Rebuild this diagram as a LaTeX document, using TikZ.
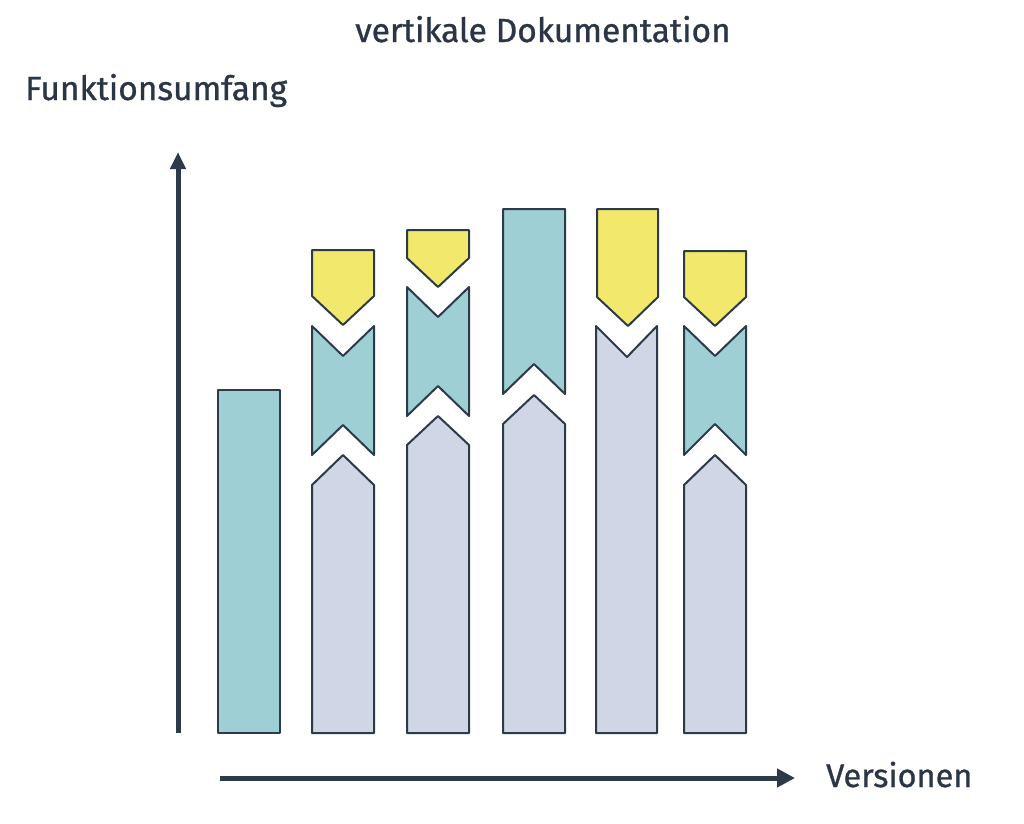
\documentclass[tikz,border=0pt]{standalone}
\usepackage{fontspec}
\setmainfont{Fira Sans}
\newfontfamily\lblfont{Fira Sans}[FakeBold=0.9]
\usetikzlibrary{arrows.meta}
\definecolor{edgec}{HTML}{2D3A4A}
\definecolor{tealc}{HTML}{9DCFD4}
\definecolor{grayc}{HTML}{CFD6E5}
\definecolor{yellowc}{HTML}{F2E86B}
\definecolor{textc}{HTML}{2A3646}
\begin{document}
\begin{tikzpicture}[x=1pt,y=-1pt,
  piece/.style={draw=edgec,line width=2pt,line join=round},
  tealpiece/.style={piece,fill=tealc},
  graypiece/.style={piece,fill=grayc},
  yellowpiece/.style={piece,fill=yellowc},
  axis/.style={draw=edgec,line width=5pt},
  lbl/.style={text=textc,font=\lblfont\fontsize{33.5}{40}\selectfont,inner sep=0pt}]
\useasboundingbox (0,0) rectangle (1024,823);
% labels
\node[lbl,anchor=base] (title) at (543,42) {vertikale Dokumentation};
\node[lbl,anchor=base west] (ylabel) at (25,100) {Funktionsumfang};
\node[lbl,anchor=base west,font=\lblfont\fontsize{32.5}{39}\selectfont] (xlabel) at (826,787) {Versionen};
% axes
\coordinate (yfrom) at (178,733);
\coordinate (yto) at (178,152);
\coordinate (xfrom) at (220,778);
\coordinate (xto) at (795,778);
\draw[axis,-{Triangle[length=17pt,width=15pt]}] (yfrom) -- (yto);
\draw[axis,-{Triangle[length=18pt,width=18pt]}] (xfrom) -- (xto);
% bar 1
\draw[tealpiece] (218,390) rectangle (280,733);
% bar 2
\draw[yellowpiece] (312,250) -- (374,250) -- (374,296) -- (343,325) -- (312,296) -- cycle;
\draw[tealpiece] (312,326) -- (343,356) -- (374,326) -- (374,455) -- (343,425) -- (312,455) -- cycle;
\draw[graypiece] (312,733) -- (312,485) -- (343,455) -- (374,485) -- (374,733) -- cycle;
% bar 3
\draw[yellowpiece] (407,230) -- (469,230) -- (469,258) -- (438,287) -- (407,258) -- cycle;
\draw[tealpiece] (407,287) -- (438,317) -- (469,287) -- (469,416) -- (438,386) -- (407,416) -- cycle;
\draw[graypiece] (407,733) -- (407,445) -- (438,416) -- (469,445) -- (469,733) -- cycle;
% bar 4
\draw[tealpiece] (503,209) -- (565,209) -- (565,394) -- (534,364) -- (503,394) -- cycle;
\draw[graypiece] (503,733) -- (503,424) -- (534,395) -- (565,424) -- (565,733) -- cycle;
% bar 5
\draw[yellowpiece] (597,209) -- (658,209) -- (658,297) -- (628,326) -- (597,297) -- cycle;
\draw[graypiece] (596,326) -- (627,357) -- (657,326) -- (657,733) -- (596,733) -- cycle;
% bar 6
\draw[yellowpiece] (684,251) -- (746,251) -- (746,297) -- (715,326) -- (684,297) -- cycle;
\draw[tealpiece] (684,326) -- (715,356) -- (746,326) -- (746,455) -- (715,424) -- (684,455) -- cycle;
\draw[graypiece] (684,733) -- (684,485) -- (715,455) -- (746,485) -- (746,733) -- cycle;
\end{tikzpicture}
\end{document}
